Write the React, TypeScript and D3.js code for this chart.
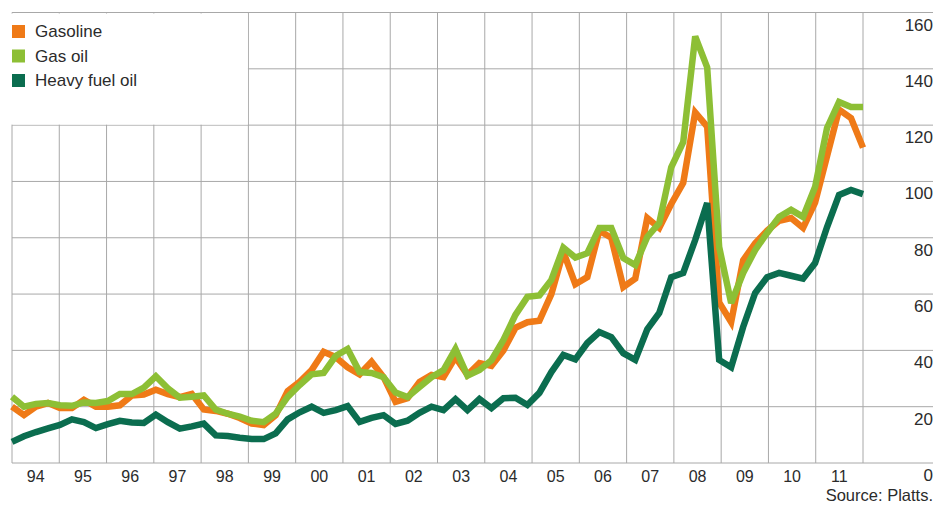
import React from "react";
import * as d3 from "d3";

const years = ["94","95","96","97","98","99","00","01","02","03","04","05","06","07","08","09","10","11"];
const yTicks = [0, 20, 40, 60, 80, 100, 120, 140, 160];

const gasoline = [
  20, 17, 20, 21.3, 19.5, 19.5, 22.4, 20, 20, 20.5, 24, 24.3,
  26, 24.5, 23.4, 24.5, 19, 18.5, 17.5, 16, 14, 13.5, 17, 25.5,
  28.8, 33, 39.5, 37.6, 34, 31.5, 36, 30.5, 21.7, 23, 28.8, 31.3,
  30.5, 37.6, 31.3, 35.5, 34.5, 40, 48, 50, 50.5, 60, 75, 63.5,
  66, 82.5, 80, 62.5, 65.5, 87, 83.5, 92, 99.5, 124.5, 119.5, 57,
  50, 72, 78, 82.5, 86, 87, 83.5, 92.5, 109, 125.5, 122.5, 112,
];
const gasOil = [
  23.5, 20, 21, 21.3, 20.5, 20.3, 21.5, 21.3, 22, 24.5, 24.5, 26.8,
  30.8, 26.5, 23.2, 23.5, 24, 19, 17.5, 16.5, 15, 14.5, 17.5, 23.5,
  27.7, 31.5, 32, 38, 40.5, 32.3, 32, 30.5, 25, 23.4, 27, 30.5,
  33, 40.5, 31, 33, 36.5, 43.7, 52.6, 59, 59.5, 65, 76.5, 73,
  74.5, 83.5, 83.5, 72.8, 70.3, 80.3, 85.2, 105, 114, 151.5, 140.5, 76.7,
  56.8, 67.5, 75.6, 81.7, 87.4, 89.9, 87.4, 98, 119, 128.2, 126.4, 126.4,
];
const heavyFuelOil = [
  7.5, 9.5, 11, 12.3, 13.5, 15.5, 14.5, 12.4, 13.8, 15, 14.4, 14.2,
  17.2, 14.5, 12.2, 13, 14, 9.8, 9.6, 9, 8.5, 8.5, 10.5, 15.5,
  18, 20, 17.8, 18.8, 20.2, 14.6, 16, 17, 13.9, 15, 17.8, 20,
  18.8, 22.7, 18.8, 22.7, 19.5, 23, 23.2, 20.6, 24.9, 32.3, 38.4, 36.8,
  42.6, 46.5, 44.7, 39, 36.6, 47.5, 53.3, 66, 67.5, 79.2, 92.3, 36.6,
  34, 48.3, 60.4, 66, 67.5, 66.5, 65.5, 71, 83.8, 95.2, 97, 95.5,
];

const seriesNames = ["Gasoline", "Gas oil", "Heavy fuel oil"];
const seriesColors = ["#ef7a17", "#8dbf35", "#0b6d4f"];
const seriesData = [gasoline, gasOil, heavyFuelOil];

const W = 935;
const H = 506;
const left = 12;
const right = 863;
const top = 12.5;
const bottom = 463;
const gridRight = 933;

export default function App() {
  const x = d3.scaleLinear().domain([0, gasoline.length - 1]).range([left, right]);
  const xYear = d3.scaleLinear().domain([0, years.length]).range([left, right]);
  const y = d3.scaleLinear().domain([0, 160]).range([bottom, top]);
  const line = d3
    .line<number>()
    .x((_, i) => x(i))
    .y((d) => y(d));

  const font = "'Liberation Sans', Arial, sans-serif";
  const textColor = "#2b2b2b";
  const gridColor = "#a8a8a8";

  return (
    <svg
      width={W}
      height={H}
      style={{ position: "fixed", left: 0, top: 0, display: "block", background: "#fff" }}
      fontFamily={font}
    >
      <rect x={0} y={0} width={W} height={H} fill="#fff" />
      {d3.range(years.length + 1).map((k) => (
        <line
          key={"v" + k}
          x1={xYear(k)}
          x2={xYear(k)}
          y1={top}
          y2={bottom}
          stroke={gridColor}
          strokeWidth={1}
        />
      ))}
      {yTicks.map((t) => (
        <line
          key={"h" + t}
          x1={left}
          x2={gridRight}
          y1={y(t)}
          y2={y(t)}
          stroke={gridColor}
          strokeWidth={1}
        />
      ))}
      <rect x={left - 1.5} y={top + 1} width={xYear(5) - left + 1} height={y(120) - top - 1.5} fill="#fff" />
      {yTicks.map((t) => (
        <text
          key={"yt" + t}
          x={gridRight}
          y={y(t) + 18}
          textAnchor="end"
          fontSize={17}
          fill={textColor}
        >
          {t}
        </text>
      ))}
      {years.map((yr, k) => (
        <text
          key={"xl" + yr}
          x={(xYear(k) + xYear(k + 1)) / 2}
          y={482}
          textAnchor="middle"
          fontSize={16}
          fill={textColor}
        >
          {yr}
        </text>
      ))}
      {seriesData.map((s, i) => (
        <path
          key={"s" + i}
          d={line(s) || ""}
          fill="none"
          stroke={seriesColors[i]}
          strokeWidth={6.5}
          strokeLinejoin="miter"
          strokeMiterlimit={3}
        />
      ))}
      {seriesNames.map((n, i) => (
        <g key={"lg" + i} transform={`translate(12, ${25 + i * 24.5})`}>
          <rect x={0} y={0} width={13} height={13} fill={seriesColors[i]} />
          <text x={23} y={12} fontSize={17} fill={textColor}>
            {n}
          </text>
        </g>
      ))}
      <text x={gridRight} y={501} textAnchor="end" fontSize={16.5} fill={textColor}>
        Source: Platts.
      </text>
    </svg>
  );
}
